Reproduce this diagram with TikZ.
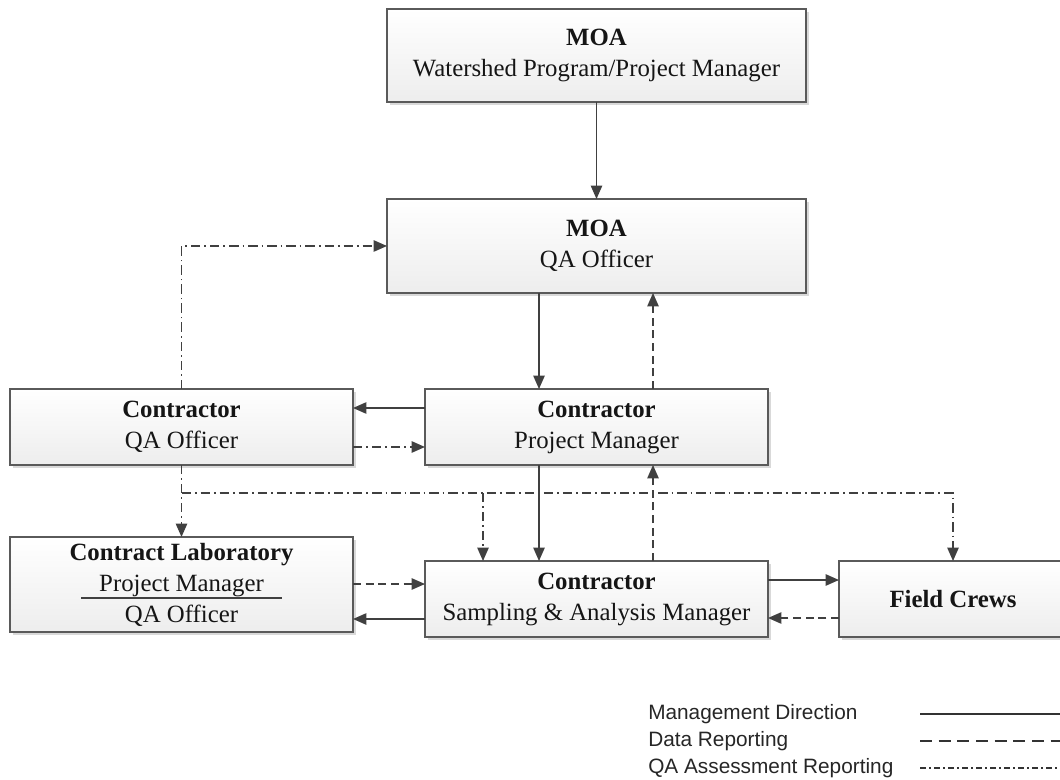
\documentclass[tikz,border=0pt]{standalone}
\usepackage{fontspec}
\setmainfont{Liberation Serif}
\newfontfamily\legendfont{Liberation Sans}
\usetikzlibrary{arrows.meta,shadows,calc}
\definecolor{linec}{HTML}{404040}
\definecolor{borderc}{HTML}{5A5A5A}
\definecolor{txtc}{HTML}{151515}
\tikzset{
  box/.style={draw=borderc, line width=1.4pt, top color=white, bottom color=black!7,
    drop shadow={shadow xshift=2.5pt, shadow yshift=-2.5pt, opacity=0.15, fill=black},
    inner sep=0pt, outer sep=0pt, align=center, text=txtc,
    font=\fontsize{18.6pt}{23.2pt}\selectfont},
  conn/.style={draw=linec, line width=1.1pt, -{Triangle[length=10pt,width=8.5pt]}},
  mgmt/.style={conn},
  data/.style={conn, dash pattern=on 6pt off 3.5pt},
  qa/.style={conn, dash pattern=on 7pt off 3pt on 1.3pt off 3pt},
  legtext/.style={anchor=west, inner sep=0pt, text=black!85, font=\legendfont\fontsize{15.6pt}{18pt}\selectfont},
  legline/.style={draw=black!80, line width=0.9pt},
}
\begin{document}
\begin{tikzpicture}[x=0.75pt,y=-0.75pt]
\useasboundingbox (0,0) rectangle (1060,780);

% boxes
\node[box, minimum width=314.25pt, minimum height=69.75pt] (moa1) at (596.5,55.5)
  {\textbf{MOA}\\Watershed Program/Project Manager};
\node[box, minimum width=314.25pt, minimum height=70.5pt] (moa2) at (596.5,246)
  {\textbf{MOA}\\QA Officer};
\node[box, minimum width=257.25pt, minimum height=57pt] (cqa) at (181.5,427)
  {\textbf{Contractor}\\QA Officer};
\node[box, minimum width=257.25pt, minimum height=57pt] (cpm) at (596.5,427)
  {\textbf{Contractor}\\Project Manager};
\node[box, minimum width=257.25pt, minimum height=71.25pt] (lab) at (181.5,584.5)
  {\textbf{Contract Laboratory}\\Project Manager\\QA Officer};
\node[box, minimum width=257.25pt, minimum height=57pt] (sam) at (596.5,599)
  {\textbf{Contractor}\\Sampling \& Analysis Manager};
\node[box, minimum width=171pt, minimum height=57pt] (fc) at (953,599)
  {\textbf{Field Crews}};

% divider in lab box
\coordinate (labL) at ($(lab.center)+(-100.5,13.5)$);
\coordinate (labR) at ($(lab.center)+(100.5,13.5)$);
\draw[draw=black!75, line width=0.9pt] (labL) -- (labR);

% guide coordinates
\coordinate (c1) at (539,0);
\coordinate (c2) at (653,0);
\coordinate (c3) at (483,0);
\coordinate (r1) at (0,408);
\coordinate (r2) at (0,447);
\coordinate (r3) at (0,584);
\coordinate (r4) at (0,619);
\coordinate (r5) at (0,580);
\coordinate (r6) at (0,618);
\coordinate (bus) at (0,493);

% connectors
\draw[mgmt] (moa1) -- (moa2);
\draw[mgmt] (moa2.south -| c1) -- (cpm.north -| c1);
\draw[data] (cpm.north -| c2) -- (moa2.south -| c2);
\draw[qa] (cqa.north) |- (moa2.west);
\draw[mgmt] (cpm.west |- r1) -- (cqa.east |- r1);
\draw[qa] (cqa.east |- r2) -- (cpm.west |- r2);
\draw[qa] (cqa.south) -- (lab.north);
\draw[qa] (cqa.south |- bus) -| (fc.north);
\draw[qa] (c3 |- bus) -- (sam.north -| c3);
\draw[mgmt] (cpm.south -| c1) -- (sam.north -| c1);
\draw[data] (sam.north -| c2) -- (cpm.south -| c2);
\draw[data] (lab.east |- r3) -- (sam.west |- r3);
\draw[mgmt] (sam.west |- r4) -- (lab.east |- r4);
\draw[mgmt] (sam.east |- r5) -- (fc.west |- r5);
\draw[data] (fc.west |- r6) -- (sam.east |- r6);

% legend
\node[legtext] (l1) at (648,714) {Management Direction};
\node[legtext] (l2) at (648,741) {Data Reporting};
\node[legtext] (l3) at (648,768) {QA Assessment Reporting};
\coordinate (l1a) at (920,714); \coordinate (l1b) at (1060,714);
\coordinate (l2a) at (920,741); \coordinate (l2b) at (1060,741);
\coordinate (l3a) at (920,768); \coordinate (l3b) at (1060,768);
\draw[legline] (l1a) -- (l1b);
\draw[legline, dash pattern=on 9pt off 5pt] (l2a) -- (l2b);
\draw[legline, line width=0.8pt, dash pattern=on 4.5pt off 2.5pt on 1pt off 2.5pt] (l3a) -- (l3b);
\end{tikzpicture}
\end{document}
